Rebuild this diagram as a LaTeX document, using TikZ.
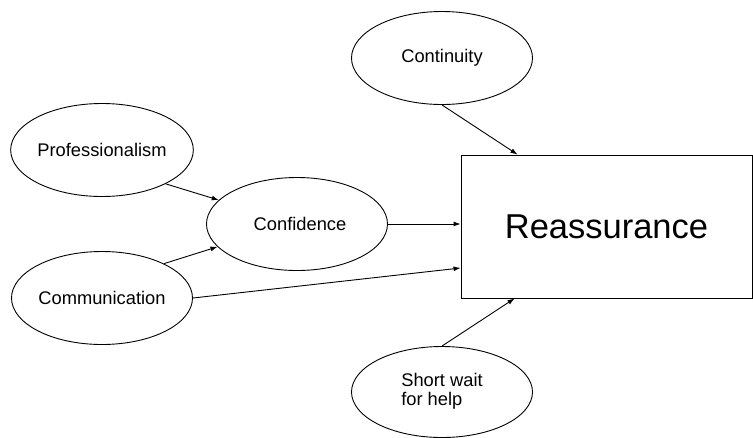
\documentclass[tikz,border=0pt]{standalone}
\usepackage{fontspec}
\setmainfont{Liberation Sans}
\usetikzlibrary{shapes.geometric,arrows.meta,calc}
\begin{document}
\begin{tikzpicture}[x=1pt,y=-1pt,
  oval/.style={draw,ellipse,line width=0.9pt,minimum width=181pt,minimum height=93pt,inner sep=0pt,font=\fontsize{18.3}{18}\selectfont},
  bigbox/.style={draw,rectangle,line width=0.9pt,minimum width=291pt,minimum height=143pt,inner sep=0pt,font=\fontsize{34.5}{40}\selectfont},
  conn/.style={line width=0.9pt,-{Latex[length=7pt,width=5pt]}}]
\useasboundingbox (0,0) rectangle (753,437);
\node[oval] (cont) at (442,58) {Continuity};
\node[oval] (prof) at (102,150) {Professionalism};
\node[oval] (conf) at (297,224) {\hspace*{6pt}Confidence};
\node[oval] (comm) at (102,298) {Communication};
\node[oval,minimum height=91pt] (wait) at (442,392) {\raisebox{-4pt}{\begin{tabular}{@{}l@{}}Short wait\\[-0.5pt]for help\end{tabular}}};
\node[bigbox] (re) at (606.5,226.5) {Reassurance};
\draw[conn] (cont.south) -- ($(re.north west)+(57,0)$);
\draw[conn] (prof.-28) -- (conf.163);
\draw[conn] (comm.29) -- (conf.-164);
\draw[conn] (conf.east) -- (conf.east -| re.west);
\draw[conn] (comm.east) -- ($(re.west)+(0,41.5)$);
\draw[conn] (wait.north) -- ($(re.south west)+(54,0)$);
\end{tikzpicture}
\end{document}
